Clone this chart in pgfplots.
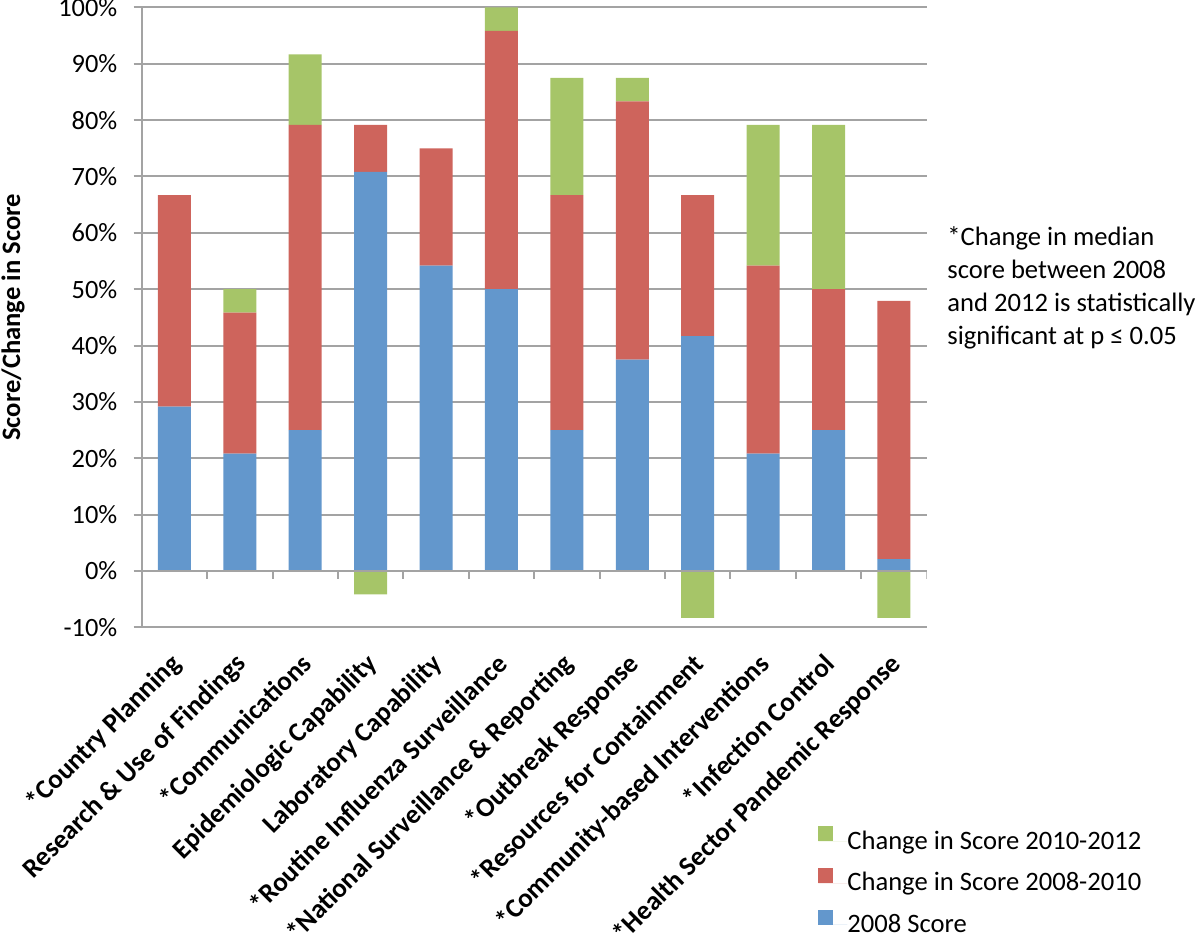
\documentclass[border=0pt]{standalone}
\usepackage{pgfplots}
\pgfplotsset{compat=1.18}
\usepackage{pgfplotstable}
\usepackage{fontspec}
\setmainfont{Carlito}
\definecolor{cblue}{RGB}{99,151,204}
\definecolor{cred}{RGB}{206,100,92}
\definecolor{cgreen}{RGB}{166,197,104}
\definecolor{gridgray}{RGB}{163,163,163}

\pgfplotstableread{
x blue red green neg
0 29.17 37.50 0 0
1 20.83 25.00 4.17 0
2 25.00 54.17 12.50 0
3 70.83 8.33 0 -4.17
4 54.17 20.83 0 0
5 50.00 45.83 4.17 0
6 25.00 41.67 20.83 0
7 37.50 45.83 4.17 0
8 41.67 25.00 0 -8.33
9 20.83 33.33 25.00 0
10 25.00 25.00 29.17 0
11 2.08 45.83 0 -8.33
}\scores

\begin{document}
\begin{tikzpicture}
\begin{axis}[
  scale only axis, width=392.5pt, height=309.95pt,
  xmin=-0.5, xmax=11.5, ymin=-10, ymax=100,
  ybar stacked, bar width=16.5pt,
  axis lines*=left,
  axis line style={gridgray, line width=1pt, -},
  ymajorgrids, grid style={gridgray, line width=1pt},
  ytick={-10,0,10,20,30,40,50,60,70,80,90,100},
  yticklabels={-10\%,0\%,10\%,20\%,30\%,40\%,50\%,60\%,70\%,80\%,90\%,100\%},
  xtick={0,1,2,3,4,5,6,7,8,9,10,11},
  xticklabels={*Country Planning, Research \& Use of Findings, *Communications, Epidemiologic Capability, Laboratory Capability, *Routine Influenza Surveillance, *National Surveillance \& Reporting, *Outbreak Response, *Resources for Containment, *Community-based Interventions, *Infection Control, *Health Sector Pandemic Response},
  tick align=outside,
  major tick length=4pt,
  ytick style={gridgray, line width=1pt},
  xtick style={draw=none},
  yticklabel style={font=\fontsize{13.2}{15}\selectfont, inner sep=0pt, xshift=-8pt},
  xticklabel style={font=\bfseries\fontsize{13.5}{16}\selectfont, inner sep=0pt, yshift=-8pt, xshift=-3pt, rotate=45, anchor=north east},
  ylabel={Score/Change in Score},
  ylabel style={font=\bfseries\fontsize{13.3}{16}\selectfont, at={(axis description cs:-0.164,0.5)}, anchor=center},
  reverse legend,
  legend style={at={(0.8615,-0.3205)}, anchor=north west, draw=none, fill=none, inner sep=0pt, row sep=8pt,
    font=\fontsize{13.3}{16}\selectfont, nodes={inner sep=0pt}},
  legend cell align=left,
  legend image code/.code={\path[#1, draw=none] (0pt,0pt) rectangle (7.5pt,7.5pt);
    \path (0pt,0pt) -- (14.5pt,0pt);},
]
\addplot[fill=cblue, draw=none] table[x=x, y=blue] {\scores};
\addplot[fill=cred, draw=none] table[x=x, y=red] {\scores};
\addplot[fill=cgreen, draw=none] table[x=x, y=green] {\scores};
\legend{2008 Score, Change in Score 2008-2010, Change in Score 2010-2012}
\end{axis}
\begin{axis}[
  scale only axis, width=392.5pt, height=309.95pt,
  xmin=-0.5, xmax=11.5, ymin=-10, ymax=100,
  hide axis, ybar, bar width=16.5pt, bar shift=0pt,
]
\addplot[fill=cgreen, draw=none] table[x=x, y=neg] {\scores};
\draw[gridgray, line width=1pt] (axis cs:-0.5,0) -- (axis cs:11.5,0);
\foreach \t in {0.5,1.5,2.5,3.5,4.5,5.5,6.5,7.5,8.5,9.5,10.5,11.5}{%
  \edef\tmp{\noexpand\draw[gridgray, line width=1pt] (axis cs:\t,0) -- ++(0pt,-4pt);}\tmp}
\end{axis}
\node[anchor=north west, align=left, inner sep=0pt, font=\fontsize{13.3}{16.5}\selectfont] at (402.65pt,200.65pt)
  {*Change in median\\score between 2008\\and 2012 is statistically\\significant at p ≤ 0.05};
\pgfresetboundingbox
\useasboundingbox (-70.85pt,-153.35pt) rectangle (529.15pt,313.65pt);
\end{tikzpicture}
\end{document}
